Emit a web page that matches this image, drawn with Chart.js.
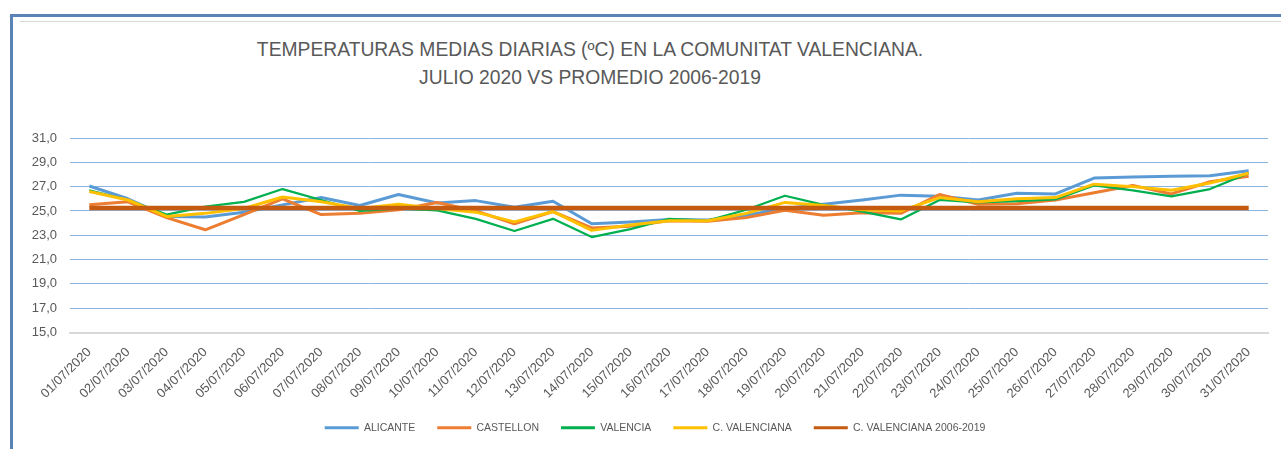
<!DOCTYPE html>
<html lang="es">
<head>
<meta charset="utf-8">
<title>Temperaturas medias diarias - Julio 2020</title>
<script src="https://cdn.jsdelivr.net/npm/chart.js@4.4.1/dist/chart.umd.min.js"></script>
<style>
  html, body { margin: 0; padding: 0; background: #fff; overflow: hidden; }
  body { width: 1281px; height: 449px; position: relative; }
  .frame {
    position: absolute; left: 10px; top: 14px; width: 1300px; height: 460px;
    border-top: 3px solid #5a84b6; border-left: 3px solid #5a84b6;
  }
  .inner-line { position: absolute; left: 20px; top: 21px; width: 1270px; height: 1px; background: #d9d9d9; }
  .chart-title {
    position: absolute; left: 190px; top: 36px; width: 800px;
    text-align: center; font-family: "Liberation Sans", Arial, sans-serif;
    font-size: 19.3px; line-height: 28px; color: #595959;
  }
  .chart-wrap { position: absolute; left: 0; top: 0; width: 1281px; height: 449px; }
</style>
</head>
<body>
<div class="frame"></div>
<div class="inner-line"></div>
<div class="chart-title">TEMPERATURAS MEDIAS DIARIAS (ºC) EN LA COMUNITAT VALENCIANA.<br>JULIO 2020 VS PROMEDIO 2006-2019</div>
<div class="chart-wrap"><canvas id="tempChart"></canvas></div>
<script>
// Días de julio 2020
const dias = [
  '01/07/2020', '02/07/2020', '03/07/2020', '04/07/2020', '05/07/2020', '06/07/2020', '07/07/2020',
  '08/07/2020', '09/07/2020', '10/07/2020', '11/07/2020', '12/07/2020', '13/07/2020', '14/07/2020',
  '15/07/2020', '16/07/2020', '17/07/2020', '18/07/2020', '19/07/2020', '20/07/2020', '21/07/2020',
  '22/07/2020', '23/07/2020', '24/07/2020', '25/07/2020', '26/07/2020', '27/07/2020', '28/07/2020',
  '29/07/2020', '30/07/2020', '31/07/2020'
];

// Temperaturas medias (ºC)
const alicante = [27.05, 26.0, 24.55, 24.5, 24.9, 25.5, 26.1, 25.45, 26.35, 25.65, 25.85, 25.3, 25.8, 23.95, 24.1, 24.3,
  24.25, 24.65, 25.2, 25.55, 25.9, 26.3, 26.2, 25.9, 26.45, 26.4, 27.7, 27.8, 27.85, 27.9, 28.3];
const castellon = [25.5, 25.75, 24.45, 23.45, 24.7, 26.0, 24.7, 24.8, 25.1, 25.7, 25.0, 23.95, 24.95, 23.6, 23.75, 24.2,
  24.15, 24.45, 25.05, 24.65, 24.85, 24.8, 26.35, 25.55, 25.6, 25.9, 26.5, 27.1, 26.4, 27.4, 27.85];
const valencia = [26.7, 25.9, 24.7, 25.35, 25.75, 26.8, 25.9, 25.0, 25.2, 25.05, 24.35, 23.35, 24.35, 22.85, 23.5, 24.35,
  24.2, 25.1, 26.25, 25.5, 24.95, 24.3, 25.9, 25.7, 25.8, 25.95, 27.1, 26.7, 26.2, 26.8, 28.1];
const cValenciana = [26.6, 25.9, 24.55, 24.8, 25.2, 26.15, 25.75, 25.2, 25.55, 25.2, 24.9, 24.1, 24.95, 23.4, 23.85, 24.2,
  24.2, 24.8, 25.7, 25.45, 25.1, 25.0, 26.1, 25.75, 26.0, 26.1, 27.2, 27.0, 26.7, 27.3, 28.1];
const promedio = [25.25, 25.25, 25.25, 25.25, 25.25, 25.25, 25.25, 25.25, 25.25, 25.25, 25.25, 25.25, 25.25, 25.25, 25.25, 25.25,
  25.25, 25.25, 25.25, 25.25, 25.25, 25.25, 25.25, 25.25, 25.25, 25.25, 25.25, 25.25, 25.25, 25.25, 25.25];

const yMin = 15;
const yMax = 31;

const textColor = '#595959';
const fontFamily = '"Liberation Sans", Arial, sans-serif';

function serie(label, data, color, width, order) {
    return {
        label: label,
        data: data,
        borderColor: color,
        backgroundColor: color,
        borderWidth: width,
        pointRadius: 0,
        pointHoverRadius: 0,
        tension: 0,
        borderJoinStyle: 'round',
        fill: false,
        order: order
    };
}

// the legend in the original sits a bit right of the page centre
const legendShift = {
    id: 'legendShift',
    afterLayout(chart) {
        if (chart.legend) chart.legend.left += 28;
    }
};

const ctx = document.getElementById('tempChart').getContext('2d');
new Chart(ctx, {
    type: 'line',
    data: {
        labels: dias,
        datasets: [
            serie('ALICANTE', alicante, '#5b9bd5', 3, 5),
            serie('CASTELLON', castellon, '#ed7d31', 3, 4),
            serie('VALENCIA', valencia, '#00b050', 2.25, 3),
            serie('C. VALENCIANA', cValenciana, '#ffc000', 3, 2),
            serie('C. VALENCIANA 2006-2019', promedio, '#c55a11', 4.5, 1)
        ]
    },
    plugins: [legendShift],
    options: {
        responsive: true,
        maintainAspectRatio: false,
        animation: false,
        layout: { padding: { left: 14, right: 13, top: 138, bottom: 6 } },
        plugins: {
            title: { display: false },
            tooltip: { enabled: false },
            legend: {
                position: 'bottom',
                labels: {
                    boxWidth: 34,
                    boxHeight: 3,
                    padding: 22,
                    color: textColor,
                    font: { family: fontFamily, size: 10.5 },
                    sort: (a, b) => a.datasetIndex - b.datasetIndex,
                    generateLabels: (chart) => {
                        const items = Chart.defaults.plugins.legend.labels.generateLabels(chart);
                        items.forEach(it => { it.lineWidth = 0; it.fillStyle = it.strokeStyle; });
                        return items;
                    }
                }
            }
        },
        scales: {
            x: {
                offset: true,
                grid: { display: false, drawTicks: false },
                border: { display: true, color: '#d9d9d9', width: 2 },
                ticks: {
                    autoSkip: false,
                    minRotation: 45,
                    maxRotation: 45,
                    padding: 12,
                    color: textColor,
                    font: { family: fontFamily, size: 13 }
                },
                afterFit: (scale) => { scale.height = 68; }
            },
            y: {
                min: yMin,
                max: yMax,
                border: { display: false },
                grid: {
                    drawTicks: false,
                    color: (c) => c.tick && c.tick.value === yMin ? 'rgba(0,0,0,0)' : '#8db3e2',
                    lineWidth: 1
                },
                ticks: {
                    stepSize: 2,
                    padding: 13,
                    color: textColor,
                    font: { family: fontFamily, size: 13 },
                    callback: (v) => v.toFixed(1).replace('.', ',')
                },
                afterFit: (scale) => { scale.width = 56; }
            }
        }
    }
});
</script>
</body>
</html>
